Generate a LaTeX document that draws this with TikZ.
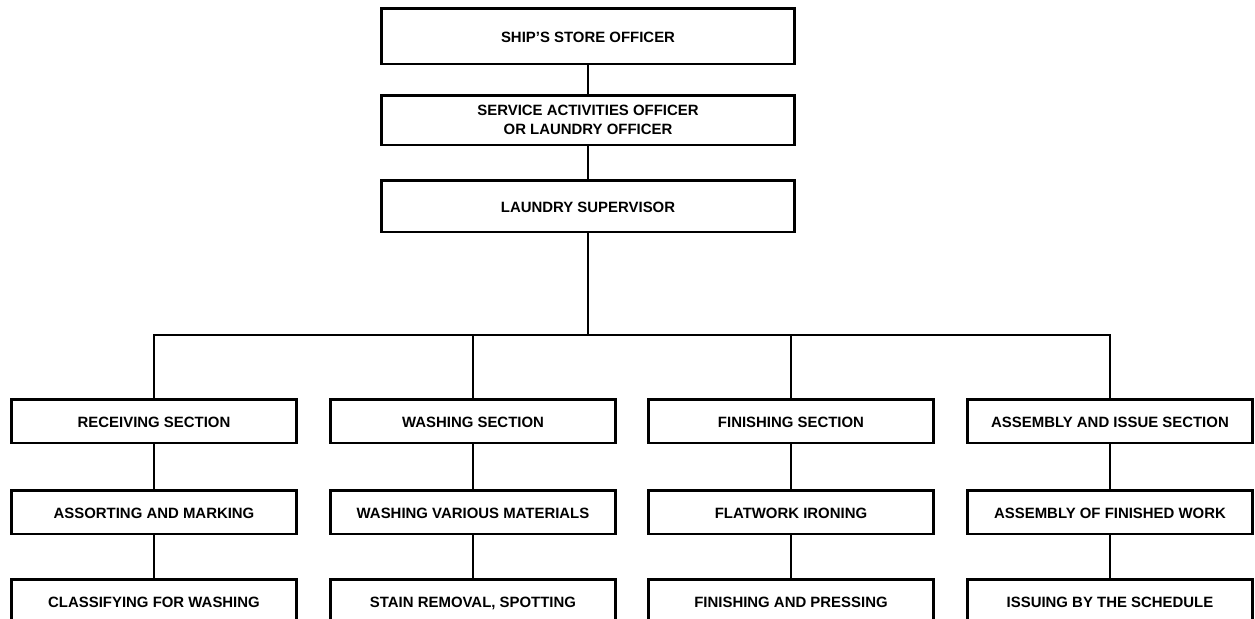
\documentclass[tikz,border=0pt]{standalone}
\usepackage{fontspec}
\setmainfont{Liberation Sans}
\tikzstyle{unit}=[rectangle, draw, line width=1.7pt, inner sep=0pt,
    minimum width=5.7cm, minimum height=0.88cm, align=center,
    text height=1.6ex, text depth=0.2ex,
    font=\fontsize{8.5}{11}\selectfont\bfseries]
\tikzstyle{head}=[unit, minimum width=8.28cm]
\newcommand{\unit}{\node[unit]}
\newcommand{\head}{\node[head]}

\begin{document}
\begin{tikzpicture}[x=0.02cm, y=-0.02cm
    ,every edge/.style={draw, line width=1.6pt}
]
\useasboundingbox (0,0) rectangle (1255,619);
\clip (0,0) rectangle (1255,619);
\head[minimum height=1.12cm] (store) at (588,36)  {SHIP'S STORE OFFICER};
\head[minimum height=1.0cm, text height=, text depth=] (sao) at (588,120) {SERVICE ACTIVITIES OFFICER\\OR LAUNDRY OFFICER};
\head[minimum height=1.04cm] (super) at (588,206) {LAUNDRY SUPERVISOR};
\coordinate (hub) at (588,335);
\unit (recv)  at (154,421)  {RECEIVING SECTION};
\unit (sort)  at (154,512)  {ASSORTING AND MARKING};
\unit (class) at (154,601)  {CLASSIFYING FOR WASHING};
\unit (wash)  at (473,421)  {WASHING SECTION};
\unit (vary)  at (473,512)  {WASHING VARIOUS MATERIALS};
\unit (stain) at (473,601)  {STAIN REMOVAL, SPOTTING};
\unit (fin)   at (791,421)  {FINISHING SECTION};
\unit (flat)  at (791,512)  {FLATWORK IRONING};
\unit (press) at (791,601)  {FINISHING AND PRESSING};
\unit (asm)   at (1110,421) {ASSEMBLY AND ISSUE SECTION};
\unit (work)  at (1110,512) {ASSEMBLY OF FINISHED WORK};
\unit (issue) at (1110,601) {ISSUING BY THE SCHEDULE};
\path
(store) edge (sao)
(sao)   edge (super)
(super) edge (hub)
(recv)  edge (sort)
(sort)  edge (class)
(wash)  edge (vary)
(vary)  edge (stain)
(fin)   edge (flat)
(flat)  edge (press)
(asm)   edge (work)
(work)  edge (issue)
;
\draw[line width=1.6pt] (recv.north) |- (hub) -| (asm.north);
\draw[line width=1.6pt] (wash.north) -- (wash.north |- hub);
\draw[line width=1.6pt] (fin.north) -- (fin.north |- hub);
\end{tikzpicture}
\end{document}
